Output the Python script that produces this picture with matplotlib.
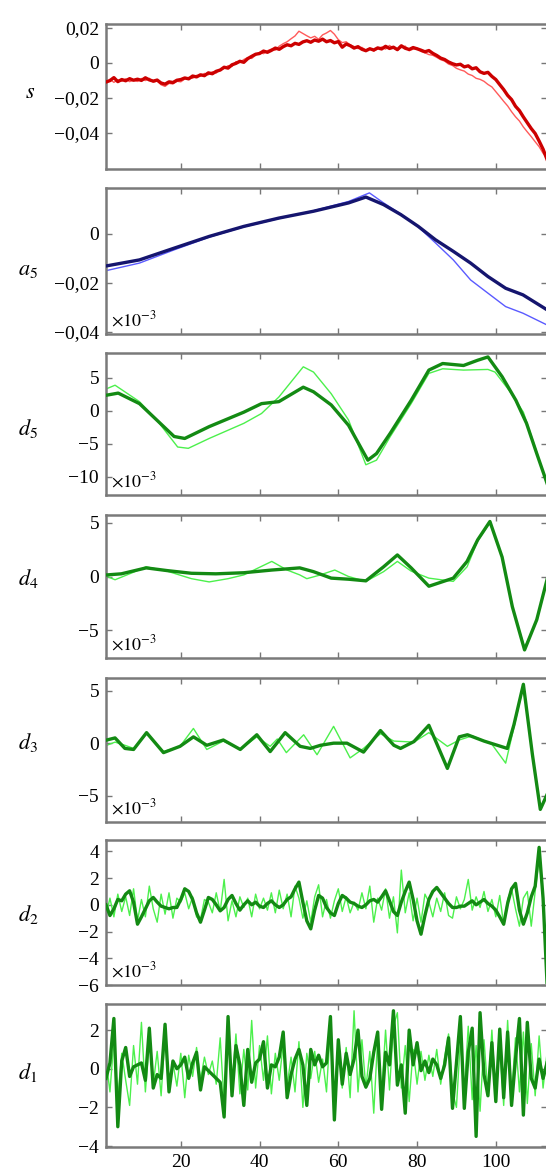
import numpy as np
import matplotlib
matplotlib.use("Agg")
import matplotlib.pyplot as plt

plt.rcParams['font.family'] = ['Liberation Serif', 'DejaVu Serif']
plt.rcParams['mathtext.fontset'] = 'stix'

# ---------------- data ----------------
# s and a5 in units of 1e-3; d5..d1 in units of 1e-3 as drawn
n = np.arange(1, 114)

s_dark = [-11.0, -10.2, -8.5, -10.8, -9.6, -10.3, -9.1, -10.0, -9.4, -10.1,
          -8.6, -9.8, -10.5, -9.9, -11.6, -12.2, -10.9, -11.3, -10.0, -9.6,
          -8.7, -9.2, -7.6, -8.1, -6.9, -7.4, -5.8, -6.3, -4.9, -4.2,
          -2.6, -3.1, -1.2, -0.4, 0.8, 0.2, 2.3, 3.6, 4.8, 5.2,
          6.6, 5.9, 7.0, 8.3, 7.6, 9.1, 10.2, 9.6, 11.0, 10.4,
          11.8, 12.5, 11.6, 12.9, 12.2, 13.4, 11.9, 12.6, 11.3, 12.0,
          8.8, 10.6, 9.7, 8.3, 9.1, 7.6, 6.8, 7.9, 7.2, 8.4,
          7.8, 9.3, 8.1, 8.8, 7.4, 9.6, 8.2, 7.5, 8.6, 7.9,
          7.1, 6.2, 6.9, 5.3, 4.1, 2.6, 1.8, 0.4, -0.6, -1.3,
          -0.9, -2.4, -1.8, -3.5, -2.9, -5.2, -6.1, -5.5, -7.8, -9.6,
          -12.5, -15.3, -18.6, -21.0, -24.8, -27.3, -30.9, -34.2, -37.5, -40.3,
          -44.6, -49.2, -55.0]
s_light = [-12.0, -9.5, -11.2, -9.8, -10.6, -9.2, -10.8, -9.9, -10.7, -9.0,
           -10.2, -8.9, -11.1, -10.4, -12.6, -13.5, -11.8, -12.1, -10.6, -10.9,
           -9.3, -8.4, -8.9, -7.2, -7.8, -6.1, -6.9, -5.2, -5.9, -3.8,
           -3.3, -1.7, -2.2, 0.6, 0.1, 1.8, 2.9, 2.4, 4.3, 5.9,
           5.1, 6.8, 7.7, 7.1, 9.4, 10.8, 11.9, 13.6, 15.2, 17.9,
           16.6, 15.3, 14.1, 15.0, 13.3, 15.8, 16.9, 18.3, 16.2, 13.1,
           11.4, 11.9, 10.1, 9.2, 8.0, 8.7, 7.1, 8.2, 6.5, 7.9,
           8.9, 7.7, 9.8, 8.3, 7.2, 8.6, 9.4, 6.8, 7.7, 8.3,
           6.4, 5.6, 4.6, 4.2, 3.0, 1.7, 0.9, -0.8, -1.6, -3.2,
           -4.1, -4.8, -6.5, -7.3, -8.9, -9.5, -10.6, -12.4, -13.8, -16.5,
           -19.2, -22.0, -24.6, -27.9, -30.8, -33.2, -36.6, -39.4, -42.1, -45.0,
           -47.8, -51.5, -54.0]

a5_dark_x = [1.3, 9.5, 18.3, 27.2, 36, 44.9, 53.7, 62.6, 67, 71.5, 75.9, 80.3,
             84.7, 89.2, 93.6, 98, 102.5, 106.9, 113]
a5_dark = [-13.1, -10.7, -5.9, -1.1, 3.0, 6.4, 9.2, 12.6, 15.0, 11.9, 7.8, 3.0,
           -2.5, -7.2, -12.0, -17.5, -22.3, -25.0, -31.1]
a5_light_x = [1.3, 9.5, 18.3, 27.2, 36, 44.9, 53.7, 62.6, 67.9, 71.5, 75.9, 80.3,
              84.7, 89.2, 93.6, 98, 102.5, 106.9, 113]
a5_light = [-15.0, -12.0, -6.6, -1.4, 2.8, 6.2, 9.4, 13.2, 16.7, 12.6, 8.0, 2.8,
            -3.8, -10.7, -18.9, -24.3, -29.8, -32.5, -37.3]

d5_dark_x = [1.3, 4.1, 9.5, 13.9, 18.3, 21, 27.2, 36, 40.5, 44.9, 51.1, 53.7,
             58.2, 62.6, 66.1, 67.5, 69.7, 73.2, 78.5, 83, 86.5, 91.8, 95.4,
             98, 101.6, 105.1, 107.8, 110.4, 113]
d5_dark = [2.4, 2.7, 1.1, -1.4, -3.9, -4.2, -2.4, -0.2, 1.1, 1.4, 3.6, 2.9,
           0.9, -2.2, -6.0, -7.5, -6.5, -3.4, 1.6, 6.2, 7.2, 6.9, 7.7,
           8.2, 5.2, 1.6, -1.9, -6.5, -11.0]
d5_light_x = [1.3, 3.3, 9.5, 13.9, 19.2, 21.9, 27.2, 36, 40.5, 44.9, 51.1, 53.7,
              58.2, 62.6, 67, 69.7, 73.2, 78.5, 83, 86.5, 91.8, 98, 99.8,
              103.4, 107, 110.4, 113]
d5_light = [3.4, 3.9, 1.4, -1.4, -5.5, -5.7, -4.2, -1.9, -0.4, 2.1, 6.7, 5.9,
            2.6, -1.4, -8.2, -7.5, -3.9, 1.1, 5.7, 6.4, 6.2, 6.3, 5.9,
            3.1, -0.2, -6.3, -11.2]

d4_dark_x = [1.3, 4.9, 11.2, 16.5, 22.7, 28.9, 36, 43.1, 50.2, 53.7, 58.2, 62.6,
             67, 71.5, 75, 78.5, 83, 89.2, 92.7, 95.4, 98.5, 101.6, 104.2,
             107.3, 110.4, 113]
d4_dark = [0.15, 0.25, 0.8, 0.55, 0.3, 0.25, 0.35, 0.6, 0.8, 0.45, -0.15, -0.25,
           -0.4, 0.9, 2.0, 0.8, -0.9, -0.15, 1.4, 3.4, 5.1, 1.8, -2.8,
           -6.8, -4.0, -0.3]
d4_light_x = [1.3, 3.3, 8, 11.2, 16.5, 22.7, 27.2, 32, 36, 43.1, 47, 50.2, 52,
              55, 59.1, 62.6, 67, 71.5, 75, 78.5, 83, 89.2, 92.7, 95.4, 98.5,
              101.6, 104.2, 107.3, 110.4, 113]
d4_light = [0.0, -0.3, 0.4, 0.9, 0.5, -0.2, -0.5, -0.2, 0.15, 1.4, 0.6, 0.15, -0.2,
            0.1, 0.6, 0.0, -0.45, 0.45, 1.4, 0.5, -0.15, -0.45, 0.9, 3.3, 5.0,
            1.8, -2.8, -6.6, -4.1, -0.4]

d3_dark_x = [1.2, 3.3, 5.8, 8, 11.3, 15.6, 19.8, 23.2, 26.6, 30.8, 35.1, 39.3,
             42.7, 46.5, 50.3, 52.9, 55.5, 58.8, 62.2, 66.4, 70.7, 74.1, 75.8,
             79.2, 83, 87.7, 90.7, 92.8, 97, 102.9, 104.6, 107, 109.3, 111.3, 113]
d3_dark = [0.3, 0.5, -0.5, -0.6, 1.0, -0.9, -0.3, 0.6, -0.2, 0.3, -0.6, 0.8,
           -0.8, 1.0, -0.3, -0.5, -0.2, 0.0, 0.0, -0.85, 1.2, -0.2, -0.5,
           0.15, 1.7, -2.4, 0.6, 0.8, 0.2, -0.5, 1.75, 5.6, -1.1, -6.3, -4.9]
d3_light_x = [1.2, 3.3, 5.8, 8, 11.3, 15.6, 19.8, 23.2, 26.6, 30.8, 35.1, 39.3,
              42.7, 44.5, 46.8, 51.2, 54.6, 58.8, 63, 66.4, 70.7, 74.1, 79.2,
              83, 87.7, 90.7, 94, 99, 102.5, 104.6, 107, 109.3, 111.3, 113]
d3_light = [-0.2, 0.1, -0.2, -0.5, 0.9, -0.8, -0.3, 1.4, -0.6, 0.2, -0.6, 0.6,
            -0.3, 0.4, -0.9, 0.8, -1.1, 1.6, -1.4, -0.5, 0.9, 0.2, 0.1,
            1.0, -0.3, 0.3, 0.7, -0.1, -1.9, 1.5, 5.5, -1.0, -6.2, -5.0]

d2_dark = [0.0, -0.8, -0.3, 0.4, 0.3, 0.8, 1.05, 0.2, -1.45, -0.9,
           -0.3, 0.3, 0.55, 0.2, -0.1, -0.2, -0.3, -0.2, -0.2, 0.4,
           1.2, 1.0, 0.4, -0.6, -1.3, -0.4, 0.55, 0.4, 0.0, -0.45,
           -0.2, 0.4, 0.7, 0.1, -0.4, 0.0, 0.3, 0.0, 0.2, -0.1,
           -0.2, 0.1, 0.3, 0.0, -0.2, 0.0, 0.4, 0.6, 1.2, 1.7,
           0.2, -1.2, -1.8, -0.4, 0.7, 0.5, -0.2, -0.6, -0.8, 0.1,
           0.7, 0.5, 0.2, 0.1, -0.1, -0.2, 0.0, 0.3, 0.4, 0.2,
           0.6, 1.05, 0.3, -0.5, -0.8, 0.2, 1.0, 1.7, 0.4, -1.2,
           -2.2, -0.8, 0.4, 1.0, 1.3, 0.9, 0.5, 0.1, -0.2, -0.2,
           -0.1, -0.1, 0.1, 0.3, 0.0, 0.2, 0.4, 0.1, -0.1, -0.4,
           -0.9, -1.45, 0.1, 1.2, 1.6, -0.4, -1.45, -0.6, 0.6, 1.4,
           4.3, 0.5, -5.8]
d2_light = [-0.8, 0.5, -0.9, 0.8, -0.5, 0.6, -0.8, 1.2, -1.2, 0.4,
            -0.9, 1.4, -0.3, -1.3, 0.8, -0.7, 0.9, -1.0, 0.5, 0.2,
            0.9, -0.3, 0.6, -0.9, -1.1, 0.4, 0.2, -0.6, 0.9, -0.5,
            1.9, -1.2, 0.3, -0.9, 0.6, -0.2, 0.5, -0.9, 0.8, -0.3,
            0.5, -0.4, 0.9, -0.6, 1.1, -0.3, 0.8, -0.9, 1.4, 0.5,
            -1.0, 0.3, -1.3, 0.6, 1.5, -0.9, 0.4, -1.0, 0.3, 1.2,
            -0.5, 0.6, -0.6, 0.2, -0.4, 0.9, -0.3, 1.4, -1.3, 0.5,
            -0.4, 1.2, -1.0, 0.6, -2.1, 2.6, -0.6, 0.9, -1.2, 0.5,
            -1.3, 0.8, 0.2, -0.9, 0.5, -0.5, 0.9, -0.8, -1.0, 0.6,
            -0.3, 0.4, 1.9, -0.4, 0.6, -0.2, 1.0, -0.5, 0.4, -0.9,
            0.7, -1.5, 0.4, 1.2, -0.3, -1.6, 0.5, 1.0, -1.6, 1.0,
            3.5, 0.5, -5.2]

d1_dark = [-0.5, 0.3, 2.6, -3.0, 0.4, 1.1, -0.4, 0.1, 0.2, 0.3,
           -0.6, 2.1, -1.0, -0.3, -0.5, 2.3, -1.2, 0.4, 0.0, 0.2,
           0.6, -0.5, 0.3, 0.85, -1.1, 0.1, -0.1, -0.3, -0.5, -0.7,
           -2.5, 2.7, -1.4, 1.2, 0.2, -1.9, 1.0, -0.7, 0.3, 0.5,
           1.4, -1.0, 0.2, 0.1, 0.6, 1.9, -1.5, -0.3, 0.5, 1.0,
           0.2, -1.9, 1.0, 0.2, 0.7, 0.1, 0.3, 2.7, -2.65, 1.5,
           -0.8, 0.8, -0.3, 0.5, 2.0, -0.4, -0.95, -0.5, 0.85, 1.9,
           -2.1, 0.85, 0.2, 3.0, -0.85, 0.2, -2.3, 2.0, 0.2, 1.35,
           -0.1, 0.4, -0.2, 0.5, 0.2, -0.5, 0.2, 1.6, -2.05, 0.3,
           2.7, -2.05, 0.85, 2.1, -3.5, 2.9, -0.3, -1.4, 1.35, -1.7,
           2.05, -1.5, 1.9, -1.9, 0.5, 2.6, -2.4, 2.4, -0.5, -1.0,
           0.5, -0.5, 0.3]
d1_light = [0.5, -1.2, 1.5, -1.5, 0.8, -0.6, -1.9, 1.2, -0.8, 2.4,
            -1.2, 1.5, -0.8, 0.9, -1.4, 1.8, -0.6, 0.3, -0.9, 0.8,
            -1.5, 0.7, -0.4, 1.1, -0.6, 0.6, -0.3, 0.4, -0.8, 1.6,
            -1.8, 2.4, -0.9, 1.8, -1.3, 1.0, -1.1, 2.5, -1.0, 1.2,
            -0.6, 1.7, -1.3, 0.8, -0.6, 1.3, -0.9, 0.6, -1.2, 1.4,
            -2.0, 0.8, -0.5, 0.9, -0.7, 0.5, -1.2, 2.2, -1.6, 1.4,
            -1.0, 1.1, -1.5, 3.0, -1.2, 1.5, -1.0, 0.9, -2.3, 1.6,
            -1.3, 2.0, -1.1, 2.2, 2.9, -1.0, 1.2, -1.7, 1.0, -0.8,
            0.9, -0.6, 0.7, -0.4, 1.0, -0.8, 0.6, 1.8, -1.2, -2.0,
            1.5, -1.1, 2.2, -1.6, 1.2, -2.2, 1.5, -1.3, 2.0, -1.5,
            1.2, -1.9, 2.5, -1.4, 1.6, -1.2, 1.9, -1.8, 1.3, -1.4,
            1.7, -1.0, 0.8]

xticks = [20, 40, 60, 80, 100]

# ---------------- layout ----------------
W, H = 546, 1174
fig = plt.figure(figsize=(W / 100, H / 100), dpi=100)

tops = [24, 188, 353, 515, 678, 840, 1004]
bots = [169, 334, 495, 658, 822, 985, 1147]
ax_left, ax_right = 106, 547

red_d, red_l = '#cc0000', '#ff5a5a'
blue_d, blue_l = '#15156e', '#5a5aff'
green_d, green_l = '#138a13', '#4cf04c'
lw_d, lw_l = 2.4, 1.0

panels = [
    dict(label=r'$s$', lab_xy=(30, 93),
         lines=[(n, np.array(s_dark) * 1e-3, red_d, lw_d), (n, np.array(s_light) * 1e-3, red_l, lw_l)],
         ylim=(-0.0605, 0.022), yt=[0.02, 0, -0.02, -0.04],
         ytl=['0,02', '0', '\u22120,02', '\u22120,04'], exp=False),
    dict(label=r'$a_5$', lab_xy=(28, 271),
         lines=[(a5_dark_x, np.array(a5_dark) * 1e-3, blue_d, lw_d),
                (a5_light_x, np.array(a5_light) * 1e-3, blue_l, lw_l)],
         ylim=(-0.041, 0.0187), yt=[0, -0.02, -0.04],
         ytl=['0', '\u22120,02', '\u22120,04'], exp=True),
    dict(label=r'$d_5$', lab_xy=(28, 429),
         lines=[(d5_dark_x, d5_dark, green_d, lw_d), (d5_light_x, d5_light, green_l, lw_l)],
         ylim=(-12.8, 8.8), yt=[5, 0, -5, -10],
         ytl=['5', '0', '\u22125', '\u221210'], exp=True),
    dict(label=r'$d_4$', lab_xy=(28, 579),
         lines=[(d4_dark_x, d4_dark, green_d, lw_d), (d4_light_x, d4_light, green_l, lw_l)],
         ylim=(-7.55, 5.7), yt=[5, 0, -5],
         ytl=['5', '0', '\u22125'], exp=True),
    dict(label=r'$d_3$', lab_xy=(28, 742),
         lines=[(d3_dark_x, d3_dark, green_d, lw_d), (d3_light_x, d3_light, green_l, lw_l)],
         ylim=(-7.5, 6.2), yt=[5, 0, -5],
         ytl=['5', '0', '\u22125'], exp=True),
    dict(label=r'$d_2$', lab_xy=(28, 915),
         lines=[(n, d2_dark, green_d, lw_d), (n, d2_light, green_l, lw_l)],
         ylim=(-6.0, 4.85), yt=[4, 2, 0, -2, -4, -6],
         ytl=['4', '2', '0', '\u22122', '\u22124', '\u22126'], exp=True),
    dict(label=r'$d_1$', lab_xy=(28, 1072),
         lines=[(n, d1_dark, green_d, lw_d), (n, d1_light, green_l, lw_l)],
         ylim=(-4.05, 3.35), yt=[2, 0, -2, -4],
         ytl=['2', '0', '\u22122', '\u22124'], exp=False),
]

for i, p in enumerate(panels):
    ax = fig.add_axes([ax_left / W, 1 - bots[i] / H,
                       (ax_right - ax_left) / W, (bots[i] - tops[i]) / H])
    # light first, dark on top
    for xs, ys, col, lw in p['lines'][::-1]:
        ax.plot(xs, ys, color=col, lw=lw, zorder=3 if lw > 1.5 else 2)
    ax.set_xlim(1, 113)
    ax.set_ylim(*p['ylim'])
    ax.set_yticks(p['yt'])
    ax.set_yticklabels(p['ytl'])
    ax.set_xticks(xticks)
    if i == len(panels) - 1:
        ax.set_xticklabels([str(t) for t in xticks])
    else:
        ax.set_xticklabels([])
    ax.tick_params(direction='in', length=4, width=1, colors='#777777',
                   labelcolor='black', labelsize=14, pad=5,
                   left=True, right=True, top=True, bottom=True)
    for sp in ax.spines.values():
        sp.set_color('#7a7a7a')
        sp.set_linewidth(1.8)
    if p['exp']:
        ax.text(0.012, 0.03, r'$\times10^{-3}$', transform=ax.transAxes,
                fontsize=13, ha='left', va='bottom')
    fig.text(p['lab_xy'][0] / W, 1 - p['lab_xy'][1] / H, p['label'],
             fontsize=16, ha='center', va='center')

fig.savefig('out.png', dpi=100)
